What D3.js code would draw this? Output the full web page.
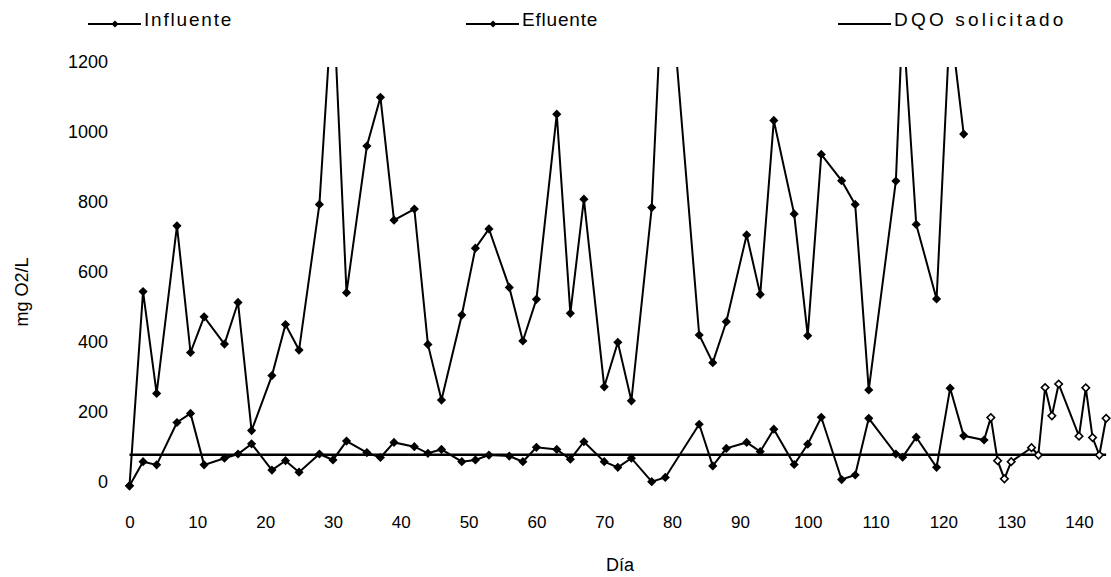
<!DOCTYPE html>
<html>
<head>
<meta charset="utf-8">
<script src="https://cdn.jsdelivr.net/npm/d3@7"></script>
<style>
  body { margin: 0; background: #fff; }
  text { font-family: "Liberation Sans", Arial, sans-serif; fill: #000; }
</style>
</head>
<body>
<div id="chart"></div>
<script>
// values (mg O2/L per day)
var influenteDias = [0,2,4,7,9,11,14,16,18,21,23,25,28,30,32,35,37,39,42,44,46,49,51,53,56,58,60,63,65,67,70,72,74,77,79,84,86,88,91,93,95,98,100,102,105,107,109,113,114,116,119,121,123];
var influente = [-11,544,253,732,370,472,394,513,147,304,450,377,793,1400,541,960,1099,748,780,393,234,477,668,723,556,403,522,1051,482,808,272,399,232,784,1600,420,341,458,706,536,1033,766,418,936,861,793,263,860,1330,736,523,1320,994];

var efluenteDias = [0,2,4,7,9,11,14,16,18,21,23,25,28,30,32,35,37,39,42,44,46,49,51,53,56,58,60,63,65,67,70,72,74,77,79,84,86,88,91,93,95,98,100,102,105,107,109,113,114,116,119,121,123,126,127,128,129,130,133,134,135,136,137,140,141,142,143,144];
var efluente = [-11,58,49,170,196,49,68,80,109,34,61,28,80,63,117,84,70,113,101,82,93,58,63,77,74,58,99,93,65,115,58,42,68,1,13,165,46,96,113,87,151,50,108,185,7,20,182,80,71,128,42,268,132,120,184,61,9,58,98,77,270,189,280,131,269,127,77,182];
var abiertosDesde = 127; // later effluent points drawn as open diamonds

var dqoDias = [0,144];
var dqo = [78,78];

var xTicks = [0,10,20,30,40,50,60,70,80,90,100,110,120,130,140];
var yTicks = [0,200,400,600,800,1000,1200];

var series = ["Influente","Efluente","DQO solicitado"];

var width = 1111, height = 577;

var svg = d3.select("#chart").append("svg")
  .attr("width", width)
  .attr("height", height);

svg.append("rect").attr("width", width).attr("height", height).attr("fill", "#fff");

var x = d3.scaleLinear().domain([0,140]).range([129.5,1079]);
var y = d3.scaleLinear().domain([0,1200]).range([482,62]);

svg.append("clipPath").attr("id","clip")
  .append("rect")
  .attr("x", 0).attr("y", y(1186))
  .attr("width", width).attr("height", height);

// axes: labels only, no lines
var xAxis = svg.append("g")
  .attr("transform","translate(0,516)")
  .call(d3.axisBottom(x).tickValues(xTicks).tickFormat(d3.format("d")).tickSize(0).tickPadding(0));
xAxis.select(".domain").remove();
xAxis.selectAll("text").attr("font-size","17px").attr("font-family",null);

var yAxis = svg.append("g")
  .attr("transform","translate(108,0)")
  .call(d3.axisLeft(y).tickValues(yTicks).tickFormat(d3.format("d")).tickSize(0).tickPadding(0));
yAxis.select(".domain").remove();
yAxis.selectAll("text").attr("font-size","18px").attr("font-family",null);

svg.append("text")
  .attr("x", 620).attr("y", 571)
  .attr("text-anchor","middle")
  .attr("font-size","18px")
  .text("Día");

svg.append("text")
  .attr("transform","translate(28,292) rotate(-90)")
  .attr("text-anchor","middle")
  .attr("font-size","18px")
  .text("mg O2/L");

var line = d3.line()
  .x(function(d){ return x(d[0]); })
  .y(function(d){ return y(d[1]); });

var plot = svg.append("g").attr("clip-path","url(#clip)");

var inf = d3.zip(influenteDias, influente);
var efl = d3.zip(efluenteDias, efluente);
var lim = d3.zip(dqoDias, dqo);

plot.append("path").datum(lim)
  .attr("d", line).attr("fill","none").attr("stroke","#000").attr("stroke-width",2.4);

plot.append("path").datum(inf)
  .attr("d", line).attr("fill","none").attr("stroke","#000").attr("stroke-width",2);

plot.append("path").datum(efl)
  .attr("d", line).attr("fill","none").attr("stroke","#000").attr("stroke-width",2);

var rombo = d3.symbol().type(d3.symbolSquare).size(42);
var romboChico = d3.symbol().type(d3.symbolSquare).size(28);

svg.selectAll(".inf")
  .data(inf.filter(function(d){ return d[1] <= 1186; }))
  .enter().append("path")
  .attr("class","inf")
  .attr("d", rombo)
  .attr("transform", function(d){ return "translate(" + x(d[0]) + "," + y(d[1]) + ") rotate(45)"; })
  .attr("fill","#000");

svg.selectAll(".efl")
  .data(efl)
  .enter().append("path")
  .attr("class","efl")
  .attr("d", function(d){ return d[0] >= abiertosDesde ? romboChico() : rombo(); })
  .attr("transform", function(d){ return "translate(" + x(d[0]) + "," + y(d[1]) + ") rotate(45)"; })
  .attr("fill", function(d){ return d[0] >= abiertosDesde ? "#fff" : "#000"; })
  .attr("stroke","#000")
  .attr("stroke-width", function(d){ return d[0] >= abiertosDesde ? 1.6 : 0; });

// legend
var leyX = [88, 466, 838];
var leySpacing = [1.8, 0.8, 3.2];

var ley = svg.selectAll(".ley")
  .data(series)
  .enter().append("g")
  .attr("class","ley")
  .attr("transform", function(d,i){ return "translate(" + leyX[i] + ",24)"; });

ley.append("line")
  .attr("x1",0).attr("x2",53).attr("y1",0).attr("y2",0)
  .attr("stroke","#000").attr("stroke-width",2);

ley.filter(function(d,i){ return i < 2; })
  .append("path")
  .attr("d", d3.symbol().type(d3.symbolSquare).size(26))
  .attr("transform","translate(27,0) rotate(45)")
  .attr("fill","#000");

ley.append("text")
  .attr("x",56).attr("y",2)
  .attr("font-size","19px")
  .attr("letter-spacing", function(d,i){ return leySpacing[i] + "px"; })
  .text(function(d){ return d; });
</script>
</body>
</html>
